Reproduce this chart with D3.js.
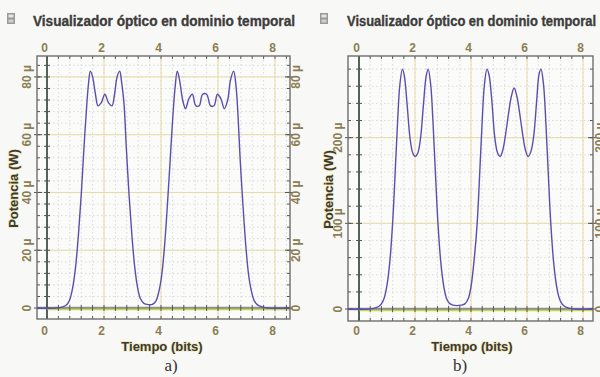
<!DOCTYPE html>
<html>
<head>
<meta charset="utf-8">
<script src="https://cdn.jsdelivr.net/npm/d3@7"></script>
<style>
  html, body { margin: 0; padding: 0; background: #f8f8f6; }
  svg { display: block; }
  .title { font-family: "Liberation Sans", Arial, sans-serif; font-weight: bold; fill: #3d3d3d; stroke: #3d3d3d; stroke-width: 0.35px; }
  .tick-label { font-family: "Liberation Sans", Arial, sans-serif; font-weight: bold; fill: #8c7e52; font-size: 12px; }
  .axis-title { font-family: "Liberation Sans", Arial, sans-serif; font-weight: bold; fill: #3a3a3a; font-size: 13px;
                stroke: #efe2a0; stroke-width: 1.2px; paint-order: stroke; }
  .caption { font-family: "Liberation Serif", "DejaVu Serif", serif; fill: #333; font-size: 17px; }
</style>
</head>
<body>
<svg id="chart" width="600" height="377"></svg>
<script>
// Time axis (bits), shared by both panels
const timeTicks = [0, 2, 4, 6, 8];

// Panel a: optical power (µW) sampled along the trace
const timeA = [-0.35, 0.3, 0.55, 0.7, 0.8, 0.9, 1.0, 1.1, 1.2, 1.3, 1.4, 1.46, 1.52, 1.6, 1.7, 1.79, 1.9, 2.03, 2.16, 2.28, 2.37, 2.46, 2.55, 2.62, 2.7, 2.78, 2.88, 2.98, 3.08, 3.18, 3.28, 3.4, 3.55, 3.7, 3.82, 3.92, 4.02, 4.12, 4.22, 4.32, 4.42, 4.5, 4.57, 4.65, 4.76, 4.86, 4.98, 5.1, 5.22, 5.34, 5.46, 5.6, 5.74, 5.86, 5.98, 6.1, 6.22, 6.34, 6.44, 6.55, 6.63, 6.7, 6.78, 6.88, 6.98, 7.08, 7.18, 7.28, 7.4, 7.55, 7.75, 8.52];
const powerA = [0, 0, 0.4, 1.2, 3, 7, 14, 25, 39, 56, 71, 78, 82, 80, 74, 70, 71, 74, 71, 70, 74, 80, 82, 78, 71, 56, 39, 25, 14, 7, 3.2, 1.6, 1.2, 1.3, 2.4, 5.5, 11, 21, 35, 51, 67, 77, 82, 79, 72, 69, 72.5, 74, 70, 70, 74, 74, 70, 70, 74, 72.5, 69, 72, 79, 82, 77, 67, 51, 35, 21, 11, 5.5, 2.4, 1, 0.4, 0, 0];
const powerTicksA = [0, 20, 40, 60, 80];

// Panel b: optical power (µW) sampled along the trace
const timeB = [-0.4, 0.35, 0.55, 0.7, 0.8, 0.9, 1.0, 1.1, 1.2, 1.3, 1.38, 1.46, 1.55, 1.62, 1.72, 1.82, 1.92, 2.01, 2.1, 2.2, 2.3, 2.4, 2.47, 2.56, 2.64, 2.72, 2.82, 2.92, 3.02, 3.12, 3.22, 3.35, 3.5, 3.65, 3.78, 3.9, 4.0, 4.12, 4.22, 4.32, 4.4, 4.48, 4.57, 4.64, 4.74, 4.85, 4.95, 5.04, 5.14, 5.24, 5.34, 5.44, 5.54, 5.64, 5.74, 5.84, 5.94, 6.04, 6.14, 6.24, 6.35, 6.43, 6.5, 6.59, 6.67, 6.75, 6.85, 6.95, 7.05, 7.15, 7.25, 7.35, 7.5, 7.7, 8.36];
const powerB = [0, 0, 1, 3, 6, 13, 28, 55, 100, 165, 220, 262, 280, 272, 238, 200, 182, 178, 182, 200, 238, 272, 280, 262, 220, 165, 100, 55, 28, 13, 7, 4.5, 4, 4.5, 6, 12, 26, 60, 100, 165, 220, 262, 280, 274, 245, 200, 182, 178, 186, 205, 228, 248, 258, 248, 228, 205, 186, 178, 184, 202, 245, 274, 280, 262, 220, 165, 100, 55, 28, 13, 6, 3, 1, 0, 0];
const powerTicksB = [0, 100, 200];

const svg = d3.select("#chart");

// Draws one time-domain viewer panel
function drawPanel(opts) {
  const { left, right, top, bottom, xDomain, yDomain, yTicks, yMinorStep, time, power, caption, cx, rightLabelX, yTitleX } = opts;
  const g = svg.append("g");
  const x = d3.scaleLinear().domain(xDomain).range([left, right]);
  const y = d3.scaleLinear().domain(yDomain).range([bottom, top]);

  // plot background
  g.append("rect").attr("x", left).attr("y", top).attr("width", right - left).attr("height", bottom - top)
    .attr("fill", "#fbfbfa");

  const xMinor = d3.range(Math.ceil(xDomain[0] / 0.4) * 0.4, xDomain[1], 0.4).map(v => +v.toFixed(2));
  const yMinor = d3.range(Math.ceil(yDomain[0] / yMinorStep) * yMinorStep, yDomain[1], yMinorStep);

  // minor grid (dashed)
  g.append("g").selectAll("line").data(xMinor).join("line")
    .attr("x1", d => x(d)).attr("x2", d => x(d)).attr("y1", top).attr("y2", bottom)
    .attr("stroke", "#d2d2d6").attr("stroke-width", 0.8).attr("stroke-dasharray", "1.5,2.5");
  g.append("g").selectAll("line").data(yMinor).join("line")
    .attr("y1", d => y(d)).attr("y2", d => y(d)).attr("x1", left).attr("x2", right)
    .attr("stroke", "#d2d2d6").attr("stroke-width", 0.8).attr("stroke-dasharray", "1.5,2.5");

  // major grid (yellowish)
  g.append("g").selectAll("line").data(timeTicks.filter(d => d !== 0)).join("line")
    .attr("x1", d => x(d)).attr("x2", d => x(d)).attr("y1", top).attr("y2", bottom)
    .attr("stroke", "#e6dda6").attr("stroke-width", 1);
  g.append("g").selectAll("line").data(yTicks.filter(d => d !== 0)).join("line")
    .attr("y1", d => y(d)).attr("y2", d => y(d)).attr("x1", left).attr("x2", right)
    .attr("stroke", "#e6dda6").attr("stroke-width", 1);

  // zero axes
  g.append("line").attr("x1", left).attr("x2", right).attr("y1", y(0)).attr("y2", y(0))
    .attr("stroke", "#8f8f8f").attr("stroke-width", 2.5);
  g.append("line").attr("x1", x(0)).attr("x2", x(0)).attr("y1", top).attr("y2", bottom)
    .attr("stroke", "#2e3d34").attr("stroke-width", 1.6);

  // noise trace (flat at zero)
  g.append("line").attr("x1", x(0)).attr("x2", right).attr("y1", y(0) + 1.5).attr("y2", y(0) + 1.5)
    .attr("stroke", "#c4d84a").attr("stroke-width", 1.4);

  // tick marks
  const tk = g.append("g").attr("stroke", "#555").attr("stroke-width", 1);
  xMinor.forEach(v => {
    const px = x(v);
    tk.append("line").attr("x1", px).attr("x2", px).attr("y1", top).attr("y2", top + 3);
    tk.append("line").attr("x1", px).attr("x2", px).attr("y1", bottom).attr("y2", bottom - 3);
    tk.append("line").attr("x1", px).attr("x2", px).attr("y1", y(0) - 3).attr("y2", y(0) + 3);
  });
  yMinor.forEach(v => {
    const py = y(v);
    tk.append("line").attr("y1", py).attr("y2", py).attr("x1", left).attr("x2", left + 3);
    tk.append("line").attr("y1", py).attr("y2", py).attr("x1", right).attr("x2", right - 3);
    tk.append("line").attr("y1", py).attr("y2", py).attr("x1", x(0) - 3).attr("x2", x(0) + 3);
  });
  yTicks.forEach(v => {
    const py = y(v);
    tk.append("line").attr("y1", py).attr("y2", py).attr("x1", left - 3).attr("x2", left + 5);
    tk.append("line").attr("y1", py).attr("y2", py).attr("x1", right + 3).attr("x2", right - 5);
  });

  // frame
  g.append("rect").attr("x", left).attr("y", top).attr("width", right - left).attr("height", bottom - top)
    .attr("fill", "none").attr("stroke", "#6e6e6e").attr("stroke-width", 1.4);

  // signal trace
  const line = d3.line().x((d, i) => x(time[i])).y(d => y(d)).curve(d3.curveCatmullRom.alpha(0.5));
  g.append("path").datum(power).attr("d", line)
    .attr("fill", "none").attr("stroke", "#5a4fae").attr("stroke-width", 1.4);

  // time tick labels, top and bottom
  timeTicks.forEach(v => {
    g.append("text").attr("class", "tick-label").attr("x", x(v) - 2.5).attr("y", top - 4)
      .attr("text-anchor", "middle").text(v);
    g.append("text").attr("class", "tick-label").attr("x", x(v) - 2.5).attr("y", 335)
      .attr("text-anchor", "middle").text(v);
  });

  // power tick labels, rotated
  const fmt = v => (v === 0 ? "0" : v + " µ");
  yTicks.forEach(v => {
    g.append("text").attr("class", "tick-label")
      .attr("transform", `translate(${left - 6},${y(v)}) rotate(-90)`)
      .attr("text-anchor", "middle").text(fmt(v));
    g.append("text").attr("class", "tick-label")
      .attr("transform", `translate(${rightLabelX},${y(v)}) rotate(-90)`)
      .attr("text-anchor", "middle").text(fmt(v));
  });

  // axis titles
  g.append("text").attr("class", "axis-title").attr("x", (x(0) + x(8)) / 2 + 1).attr("y", 351)
    .attr("text-anchor", "middle").text("Tiempo (bits)");
  g.append("text").attr("class", "axis-title")
    .attr("transform", `translate(${yTitleX},${(top + bottom) / 2 + 1}) rotate(-90)`)
    .attr("text-anchor", "middle").text("Potencia (W)");

  // caption
  g.append("text").attr("class", "caption").attr("x", cx).attr("y", 371).attr("text-anchor", "middle").text(caption);
}

// header with viewer icon and title
function drawHeader(ix, tx, tw) {
  const h = svg.append("g");
  h.append("rect").attr("x", ix).attr("y", 13).attr("width", 8).attr("height", 11).attr("fill", "#9a9a9a");
  h.append("rect").attr("x", ix + 1.5).attr("y", 14.5).attr("width", 5).attr("height", 3).attr("fill", "#e4e4e4");
  h.append("rect").attr("x", ix + 1.5).attr("y", 19.5).attr("width", 5).attr("height", 3).attr("fill", "#d0d0d0");
  h.append("text").attr("class", "title").attr("x", tx).attr("y", 26).attr("font-size", 14.5)
    .attr("textLength", tw).attr("lengthAdjust", "spacingAndGlyphs")
    .text("Visualizador óptico en dominio temporal");
}

drawHeader(7, 33, 262);
drawHeader(320, 347, 249);

drawPanel({
  left: 37, right: 290, top: 56, bottom: 319,
  xDomain: [-0.351, 8.526], yDomain: [-3.79, 87.24],
  yTicks: powerTicksA, yMinorStep: 4,
  time: timeA, power: powerA, caption: "a)", cx: 171, rightLabelX: 300, yTitleX: 18
});

drawPanel({
  left: 348, right: 593, top: 56, bottom: 321,
  xDomain: [-0.393, 8.357], yDomain: [-13.95, 295.3],
  yTicks: powerTicksB, yMinorStep: 20,
  time: timeB, power: powerB, caption: "b)", cx: 460, rightLabelX: 604, yTitleX: 333
});
</script>
</body>
</html>
